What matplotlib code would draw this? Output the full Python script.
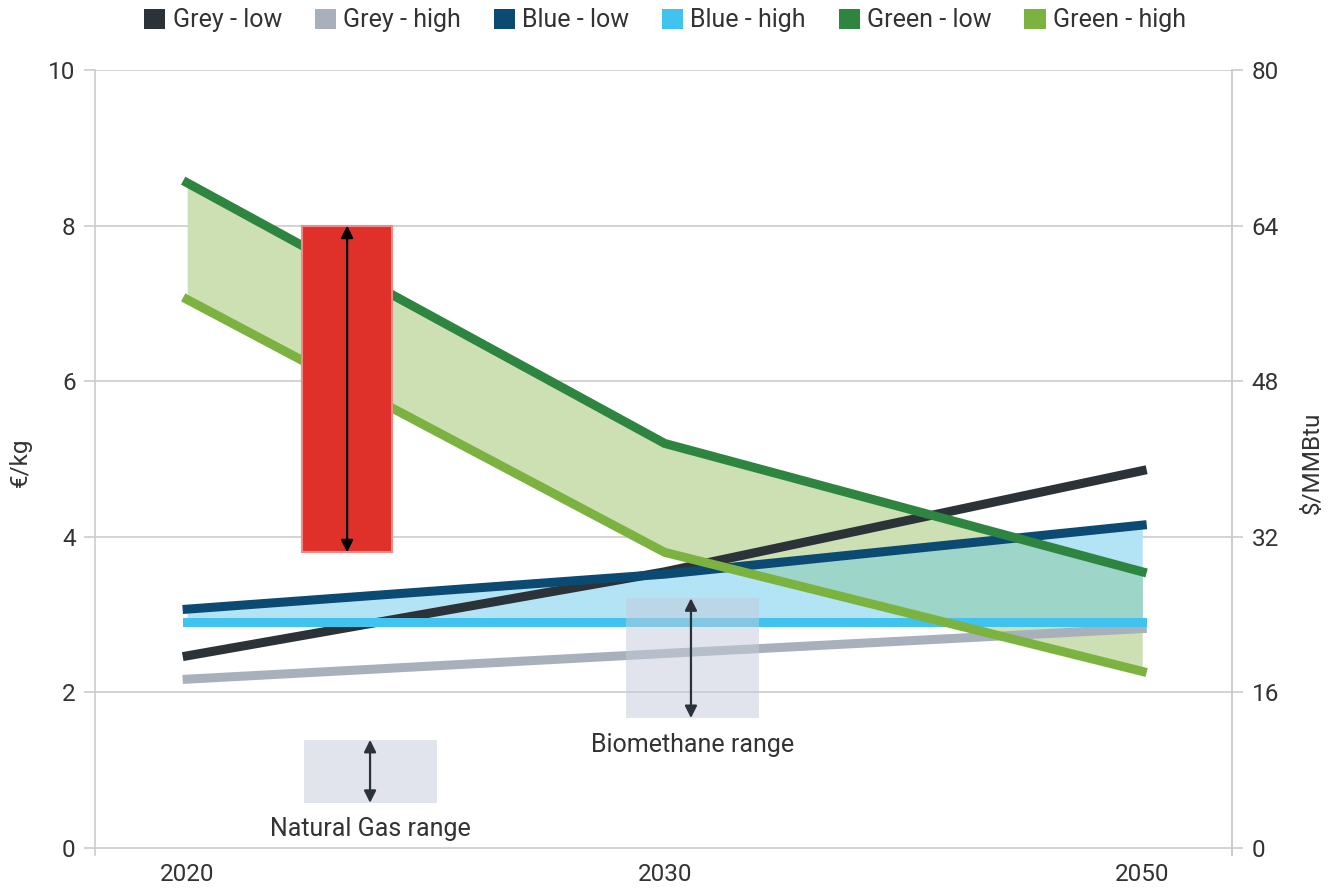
import numpy as np
import matplotlib
matplotlib.use("Agg")
import matplotlib.pyplot as plt
from matplotlib.patches import Patch, Rectangle

plt.rcParams['font.family'] = ['Roboto', 'DejaVu Sans']

years = ["2020", "2030", "2050"]
grey_low = [2.47, 3.55, 4.85]
grey_high = [2.17, 2.50, 2.82]
blue_low = [3.07, 3.52, 4.15]
blue_high = [2.90, 2.90, 2.90]
green_low = [8.55, 5.20, 3.55]
green_high = [7.05, 3.80, 2.27]

# ranges (€/kg)
electrolysis_range = (3.8, 8.0)
biomethane_range = (1.67, 3.21)
natural_gas_range = (0.58, 1.39)

left_ticks = [0, 2, 4, 6, 8, 10]
right_ticks = [0, 16, 32, 48, 64, 80]

c_grey_low = "#2b3238"
c_grey_high = "#a8b1bb"
c_blue_low = "#0b4a73"
c_blue_high = "#40c3ee"
c_green_low = "#2e8540"
c_green_high = "#7bb240"
c_fill_green = "#cde0b3"
c_fill_blue = "#b2e4f6"
c_fill_overlap = "#9dd5c8"
text_c = "#333333"
grid_c = "#cccccc"

fs = 17.5

fig = plt.figure(figsize=(13.3, 8.91), dpi=100)
ax = fig.add_axes([95/1330, 36/891, (1232-95)/1330, (855-70)/891])
x = np.arange(len(years))

ymin = -0.09
ax.set_xlim(-0.193, 2.188)
ax.set_ylim(ymin, 10)

# fills on fine grid
xf = np.linspace(0, 2, 801)
gl = np.interp(xf, x, green_low)
gh = np.interp(xf, x, green_high)
bl = np.interp(xf, x, blue_low)
bh = np.interp(xf, x, blue_high)
ax.fill_between(xf, gh, gl, color=c_fill_green, lw=0, zorder=1)
ax.fill_between(xf, bh, bl, color=c_fill_blue, lw=0, zorder=1.1)
lo = np.maximum(gh, bh)
hi = np.minimum(gl, bl)
ax.fill_between(xf, lo, hi, where=hi > lo, interpolate=True, color=c_fill_overlap, lw=0, zorder=1.2)

lw = 6.5
for vals, c, z in [(grey_high, c_grey_high, 3), (grey_low, c_grey_low, 3.1),
                   (blue_low, c_blue_low, 3.2), (blue_high, c_blue_high, 3.3),
                   (green_low, c_green_low, 3.4), (green_high, c_green_high, 3.5)]:
    ax.plot(x, vals, color=c, lw=lw, solid_capstyle='projecting',
            solid_joinstyle='miter', zorder=z)

# red electrolysis box
rx0, rx1 = 0.241, 0.429
ax.add_patch(Rectangle((rx0, electrolysis_range[0]), rx1 - rx0,
                       electrolysis_range[1] - electrolysis_range[0],
                       facecolor="#e0302a", edgecolor="#ef8a86", lw=1.5, zorder=5))
ax.annotate("", xy=(0.335, electrolysis_range[1]), xytext=(0.335, electrolysis_range[0]),
            arrowprops=dict(arrowstyle="<|-|>", color="black", lw=1.6,
                            mutation_scale=18, shrinkA=0, shrinkB=0), zorder=6)

# biomethane box
bx0, bx1 = 0.919, 1.198
ax.add_patch(Rectangle((bx0, biomethane_range[0]), bx1 - bx0,
                       biomethane_range[1] - biomethane_range[0],
                       facecolor="#c5cbda", alpha=0.5, lw=0, zorder=5))
ax.annotate("", xy=(1.055, biomethane_range[1]), xytext=(1.055, biomethane_range[0]),
            arrowprops=dict(arrowstyle="<|-|>", color="#2b3238", lw=1.6,
                            mutation_scale=18, shrinkA=0, shrinkB=0), zorder=6)
ax.text(1.058, 1.32, "Biomethane range", ha="center", va="center", fontsize=18,
        color=text_c, zorder=6)

# natural gas box
nx0, nx1 = 0.245, 0.524
ax.add_patch(Rectangle((nx0, natural_gas_range[0]), nx1 - nx0,
                       natural_gas_range[1] - natural_gas_range[0],
                       facecolor="#c5cbda", alpha=0.5, lw=0, zorder=5))
ax.annotate("", xy=(0.383, natural_gas_range[1]), xytext=(0.383, natural_gas_range[0]),
            arrowprops=dict(arrowstyle="<|-|>", color="#2b3238", lw=1.6,
                            mutation_scale=18, shrinkA=0, shrinkB=0), zorder=6)
ax.text(0.383, 0.25, "Natural Gas range", ha="center", va="center", fontsize=18,
        color=text_c, zorder=6)

# axes styling
ax.set_yticks(left_ticks)
ax.set_yticklabels([str(t) for t in left_ticks])
ax.set_xticks(x)
ax.set_xticklabels(years)
ax.grid(axis='y', color=grid_c, lw=1.2, zorder=0)
ax.set_axisbelow(True)
for s in ["top", "bottom"]:
    ax.spines[s].set_visible(False)
for s in ["left", "right"]:
    ax.spines[s].set_color(grid_c)
    ax.spines[s].set_linewidth(1.2)
ax.tick_params(axis='y', length=8, color=grid_c, width=1.2, labelsize=fs,
               labelcolor=text_c, pad=6)
ax.tick_params(axis='x', length=0, labelsize=fs, labelcolor=text_c, pad=6)
ax.set_ylabel("€/kg", fontsize=fs, color=text_c, labelpad=12)

ax2 = ax.twinx()
ax2.set_ylim(ymin * 8, 80)
ax2.set_yticks(right_ticks)
ax2.set_yticklabels([str(t) for t in right_ticks])
for s in ["top", "bottom", "left"]:
    ax2.spines[s].set_visible(False)
ax2.spines["right"].set_color(grid_c)
ax2.spines["right"].set_linewidth(1.2)
ax2.tick_params(axis='y', length=8, color=grid_c, width=1.2, labelsize=fs,
                labelcolor=text_c, pad=6)
ax2.set_ylabel("$/MMBtu", fontsize=fs, color=text_c, labelpad=16)

handles = [Patch(facecolor=c, edgecolor='none') for c in
           [c_grey_low, c_grey_high, c_blue_low, c_blue_high, c_green_low, c_green_high]]
labels = ["Grey - low", "Grey - high", "Blue - low", "Blue - high", "Green - low", "Green - high"]
fig.legend(handles, labels, loc="upper center", bbox_to_anchor=(0.5, 1.016), ncol=6,
           frameon=False, fontsize=18, handlelength=0.85, handleheight=0.85,
           handletextpad=0.3, columnspacing=1.3, labelcolor=text_c)

fig.savefig("out.png", dpi=100)
